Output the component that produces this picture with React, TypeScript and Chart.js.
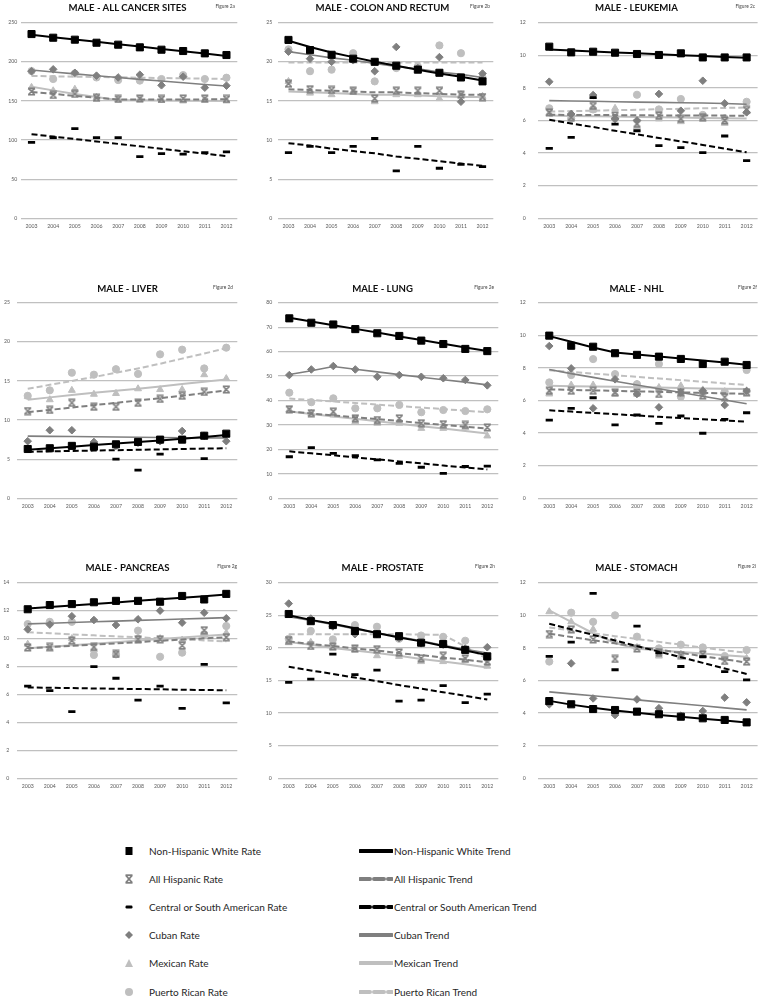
import React, { useEffect, useRef } from "react";
import { Chart, registerables } from "chart.js";

Chart.register(...registerables);

// ---------- categories ----------
const years = ["2003", "2004", "2005", "2006", "2007", "2008", "2009", "2010", "2011", "2012"];

// ---------- Figure 2a: All cancer sites ----------
const allNHW = [235.5, 230.8, 228.3, 224.4, 221.9, 218.5, 215.5, 213.8, 210.8, 208.7];
const allNHWTrend = [234.5, 231.5, 228.5, 225.5, 222.5, 219.5, 216.5, 213.5, 210.5, 207.5];
const allAH = [162, 157.6, 159, 154, 152.5, 153, 152.5, 153, 153, 152.5];
const allAHTrend = [161.5, 159, 156.5, 154, 151.8, 151.8, 151.9, 152, 152, 152.1];
const allCSA = [97, 103, 114.5, 103, 103, 78.8, 82.6, 82, 84, 85];
const allCSATrend = [107.5, 104.4, 101.3, 98.2, 95.1, 92, 88.9, 85.8, 82.7, 79.6];
const allCuban = [188, 190.4, 186, 182.3, 180, 183.5, 170, 181, 167, 169.5];
const allCubanTrend = [189.5, 187, 184.6, 182.2, 179.9, 177.6, 175.4, 173.2, 171, 169];
const allMex = [167.4, 163, 165, 154.6, 152, 152, 151, 150, 151, 150];
const allMexTrend = [168, 163.5, 159, 155, 151, 150.8, 150.6, 150.4, 150.2, 150];
const allPR = [188.2, 178, 185, 180, 176.7, 176, 178, 183, 178, 179.7];
const allPRTrend = [182, 181.5, 181, 180.6, 180.2, 179.7, 179.3, 178.9, 178.5, 178];

// ---------- Figure 2b: Colon and rectum ----------
const colNHW = [22.8, 21.5, 20.9, 20.4, 20.0, 19.5, 19.0, 18.6, 18.0, 17.5];
const colNHWTrend = [22.7, 21.9, 21.2, 20.6, 20.0, 19.5, 19.0, 18.5, 18.1, 17.6];
const colAH = [17.2, 16.5, 16.4, 16.3, 15.3, 16.3, 16.3, 16.3, 15.8, 15.5];
const colAHTrend = [16.5, 16.4, 16.3, 16.2, 16.1, 16.1, 16.0, 15.9, 15.8, 15.8];
const colCSA = [8.4, 9.2, 8.4, 9.2, 10.2, 6.05, 9.2, 6.4, 6.9, 6.6];
const colCSATrend = [9.6, 9.3, 8.9, 8.6, 8.3, 7.9, 7.6, 7.3, 7.0, 6.7];
const colCuban = [21.3, 20.4, 20.0, 20.2, 18.8, 21.9, 19.2, 20.6, 14.9, 18.5];
const colCubanTrend = [21.3, 20.9, 20.5, 20.2, 19.8, 19.4, 19.1, 18.7, 18.4, 18.0];
const colMex = [17.5, 16.0, 15.8, 16.2, 14.9, 15.8, 15.8, 15.3, 15.8, 15.6];
const colMexTrend = [16.2, 16.1, 16.0, 15.9, 15.8, 15.8, 15.7, 15.6, 15.5, 15.5];
const colPR = [21.6, 18.8, 19.0, 21.1, 17.5, 19.2, 19.4, 22.1, 21.1, 18.0];
const colPRTrend = [19.9, 19.9, 19.9, 19.9, 19.9, 19.9, 19.9, 19.9, 19.9, 19.9];

// ---------- Figure 2c: Leukemia ----------
const leuNHW = [10.53, 10.18, 10.22, 10.16, 10.08, 10.02, 10.12, 9.87, 9.87, 9.87];
const leuNHWTrend = [10.35, 10.29, 10.23, 10.17, 10.12, 10.06, 10.0, 9.95, 9.9, 9.85];
const leuAH = [6.5, 6.2, 6.9, 6.3, 5.8, 6.3, 6.1, 6.2, 6.0, 6.65];
const leuAHTrend = [6.35, 6.34, 6.33, 6.33, 6.32, 6.31, 6.31, 6.3, 6.3, 6.29];
const leuCSA = [4.29, 4.97, 7.4, 5.78, 5.37, 4.46, 4.33, 4.03, 5.05, 3.54];
const leuCSATrend = [6.05, 5.82, 5.6, 5.37, 5.15, 4.93, 4.72, 4.5, 4.28, 4.05];
const leuCuban = [8.38, 6.4, 7.56, 6.1, 6.0, 7.63, 6.6, 8.44, 7.05, 6.5];
const leuCubanTrend = [7.22, 7.2, 7.18, 7.15, 7.13, 7.11, 7.09, 7.07, 7.04, 7.0];
const leuMex = [6.44, 6.13, 6.64, 6.75, 5.62, 6.1, 5.93, 6.1, 5.83, 6.54];
const leuMexTrend = [6.3, 6.28, 6.26, 6.24, 6.22, 6.2, 6.18, 6.16, 6.14, 6.12];
const leuPR = [6.75, 6.13, 6.68, 6.13, 7.58, 6.68, 7.32, 6.34, 6.13, 7.15];
const leuPRTrend = [6.55, 6.58, 6.6, 6.63, 6.66, 6.69, 6.72, 6.75, 6.77, 6.8];

// ---------- Figure 2d: Liver ----------
const livNHW = [6.3, 6.4, 6.7, 6.6, 6.9, 7.2, 7.5, 7.5, 8.0, 8.26];
const livNHWTrend = [6.2, 6.4, 6.6, 6.8, 7.0, 7.2, 7.4, 7.6, 7.85, 8.1];
const livAH = [11.15, 11.3, 12.2, 11.7, 11.7, 12.2, 12.7, 13.1, 13.6, 13.9];
const livAHTrend = [11.0, 11.3, 11.6, 11.9, 12.2, 12.5, 12.8, 13.1, 13.45, 13.8];
const livCSA = [6.2, 6.3, 6.5, 6.5, 5.0, 3.6, 5.65, 7.4, 5.07, 8.0];
const livCSATrend = [5.95, 6.0, 6.05, 6.1, 6.15, 6.2, 6.25, 6.3, 6.35, 6.4];
const livCuban = [7.3, 8.7, 8.7, 7.2, 6.7, 7.1, 7.3, 8.6, 8.0, 7.3];
const livCubanTrend = [7.95, 7.92, 7.89, 7.86, 7.83, 7.8, 7.77, 7.74, 7.72, 7.7];
const livMex = [13.0, 12.6, 13.8, 13.3, 13.4, 14.0, 13.9, 13.9, 15.8, 15.3];
const livMexTrend = [12.6, 12.9, 13.2, 13.5, 13.75, 14.0, 14.3, 14.6, 14.9, 15.2];
const livPR = [13.1, 13.8, 16.05, 15.8, 16.5, 15.9, 18.4, 19.0, 16.6, 19.25];
const livPRTrend = [14.0, 14.5, 15.0, 15.5, 16.05, 16.6, 17.2, 17.85, 18.5, 19.2];

// ---------- Figure 2e: Lung ----------
const lunNHW = [73.6, 71.8, 71.1, 69.2, 67.5, 66.4, 64.5, 63.1, 61.1, 60.2];
const lunNHWTrend = [73.8, 72.3, 70.8, 69.3, 67.8, 66.2, 64.7, 63.2, 61.7, 60.2];
const lunAH = [36.4, 34.8, 35.4, 32.7, 32.0, 32.7, 30.7, 30.3, 30.0, 29.0];
const lunAHTrend = [35.5, 34.7, 33.9, 33.1, 32.4, 31.6, 30.8, 30.0, 29.3, 28.5];
const lunCSA = [17.0, 20.7, 18.4, 17.4, 15.7, 14.3, 12.7, 10.2, 13.0, 13.2];
const lunCSATrend = [19.2, 18.4, 17.6, 16.7, 15.9, 15.1, 14.3, 13.4, 12.6, 11.8];
const lunCuban = [50.4, 52.7, 54.1, 52.7, 49.7, 50.4, 49.7, 49.1, 48.4, 46.2];
const lunCubanTrend = [50.6, 52.2, 53.9, 52.8, 51.7, 50.6, 49.5, 48.5, 47.5, 46.4];
const lunMex = [36.1, 34.8, 34.1, 31.3, 30.7, 30.7, 28.6, 28.6, 28.9, 25.5];
const lunMexTrend = [35.5, 34.5, 33.5, 32.5, 31.5, 30.5, 29.5, 28.5, 27.5, 26.5];
const lunPR = [43.2, 39.3, 40.9, 36.8, 36.8, 38.2, 35.2, 36.1, 35.7, 36.4];
const lunPRTrend = [40.8, 40.2, 39.6, 39.0, 38.3, 37.7, 37.1, 36.5, 35.8, 35.2];

// ---------- Figure 2f: NHL ----------
const nhlNHW = [9.98, 9.36, 9.3, 8.9, 8.8, 8.69, 8.55, 8.24, 8.38, 8.18];
const nhlNHWTrend = [9.95, 9.6, 9.25, 8.95, 8.82, 8.7, 8.58, 8.46, 8.33, 8.2];
const nhlAH = [6.6, 6.6, 6.6, 6.5, 6.5, 6.4, 6.5, 6.3, 6.2, 6.5];
const nhlAHTrend = [6.68, 6.65, 6.62, 6.59, 6.56, 6.53, 6.5, 6.47, 6.44, 6.41];
const nhlCSA = [4.8, 5.52, 6.17, 4.5, 5.11, 4.6, 5.05, 3.99, 4.84, 5.25];
const nhlCSATrend = [5.4, 5.32, 5.24, 5.16, 5.08, 5.0, 4.92, 4.85, 4.77, 4.7];
const nhlCuban = [9.34, 7.97, 5.52, 7.3, 6.4, 5.58, 6.5, 6.6, 5.72, 6.58];
const nhlCubanTrend = [7.9, 7.65, 7.42, 7.18, 6.95, 6.72, 6.49, 6.26, 6.03, 5.8];
const nhlMex = [6.4, 6.95, 6.95, 6.4, 7.0, 6.8, 6.9, 6.65, 6.54, 6.6];
const nhlMexTrend = [6.9, 6.88, 6.86, 6.84, 6.82, 6.79, 6.77, 6.74, 6.72, 6.7];
const nhlPR = [7.11, 7.56, 8.54, 7.62, 7.0, 8.24, 6.23, 6.44, 6.54, 7.87];
const nhlPRTrend = [7.85, 7.75, 7.65, 7.55, 7.45, 7.35, 7.25, 7.15, 7.05, 6.95];

// ---------- Figure 2g: Pancreas ----------
const panNHW = [12.1, 12.4, 12.47, 12.6, 12.7, 12.7, 12.64, 13.05, 12.8, 13.2];
const panNHWTrend = [12.15, 12.26, 12.37, 12.48, 12.59, 12.7, 12.81, 12.92, 13.03, 13.15];
const panAH = [9.37, 9.4, 9.85, 9.4, 8.9, 9.95, 9.95, 9.5, 10.6, 10.1];
const panAHTrend = [9.3, 9.39, 9.48, 9.57, 9.66, 9.75, 9.84, 9.93, 10.02, 10.1];
const panCSA = [6.6, 6.27, 4.77, 7.99, 7.16, 5.6, 6.6, 5.0, 8.15, 5.4];
const panCSATrend = [6.5, 6.48, 6.46, 6.43, 6.41, 6.39, 6.37, 6.34, 6.32, 6.3];
const panCuban = [10.66, 11.0, 11.6, 11.33, 10.97, 11.38, 12.0, 11.14, 11.85, 11.45];
const panCubanTrend = [11.05, 11.1, 11.15, 11.2, 11.25, 11.3, 11.35, 11.4, 11.45, 11.5];
const panMex = [9.6, 9.23, 10.0, 9.2, 8.9, 10.1, 10.0, 9.9, 10.3, 10.4];
const panMexTrend = [9.3, 9.41, 9.52, 9.63, 9.74, 9.86, 9.97, 10.08, 10.19, 10.3];
const panPR = [11.04, 11.2, 11.2, 8.83, 8.87, 10.57, 8.7, 8.99, 10.3, 10.9];
const panPRTrend = [10.45, 10.38, 10.3, 10.23, 10.16, 10.09, 10.02, 9.95, 9.87, 9.8];

// ---------- Figure 2h: Prostate ----------
const proNHW = [25.2, 24.1, 23.5, 22.6, 22.1, 21.8, 20.8, 20.6, 19.7, 18.7];
const proNHWTrend = [25.0, 24.3, 23.7, 23.0, 22.3, 21.6, 21.0, 20.3, 19.6, 18.9];
const proAH = [21.2, 20.3, 20.2, 19.9, 19.8, 19.3, 18.4, 18.8, 18.4, 17.9];
const proAHTrend = [21.0, 20.6, 20.3, 19.9, 19.6, 19.2, 18.9, 18.5, 18.2, 17.8];
const proCSA = [14.7, 15.2, 19.05, 15.9, 16.6, 11.85, 12.0, 14.2, 11.6, 12.9];
const proCSATrend = [17.1, 16.55, 16.0, 15.45, 14.9, 14.3, 13.75, 13.2, 12.65, 12.1];
const proCuban = [26.8, 24.5, 23.3, 22.1, 22.1, 21.5, 20.7, 20.5, 19.9, 20.1];
const proCubanTrend = [24.8, 24.2, 23.6, 22.9, 22.3, 21.7, 21.1, 20.4, 19.8, 19.2];
const proMex = [20.8, 20.85, 20.1, 19.7, 18.8, 18.7, 17.9, 17.9, 18.1, 17.2];
const proMexTrend = [20.9, 20.5, 20.0, 19.6, 19.2, 18.8, 18.3, 17.9, 17.5, 17.0];
const proPR = [21.4, 22.6, 21.3, 23.5, 23.25, 21.4, 21.9, 21.7, 21.1, 18.4];
const proPRTrend = [22.1, 22.1, 22.1, 22.1, 22.1, 22.1, 22.05, 22.0, 20.2, 18.3];

// ---------- Figure 2i: Stomach ----------
const stoNHW = [4.74, 4.54, 4.25, 4.19, 4.09, 3.93, 3.78, 3.68, 3.58, 3.43];
const stoNHWTrend = [4.75, 4.52, 4.33, 4.16, 4.02, 3.89, 3.77, 3.65, 3.54, 3.43];
const stoAH = [8.85, 9.14, 8.52, 7.32, 7.97, 7.7, 7.56, 7.6, 7.2, 7.16];
const stoAHTrend = [8.87, 8.67, 8.47, 8.28, 8.08, 7.89, 7.69, 7.49, 7.3, 7.1];
const stoCSA = [7.48, 8.35, 11.35, 6.66, 9.34, 7.7, 6.86, 7.46, 6.55, 6.04];
const stoCSATrend = [9.48, 9.14, 8.8, 8.45, 8.11, 7.77, 7.43, 7.08, 6.74, 6.4];
const stoCuban = [4.54, 7.05, 4.9, 3.88, 4.84, 4.3, 3.84, 4.13, 4.95, 4.66];
const stoCubanTrend = [5.3, 5.18, 5.06, 4.94, 4.81, 4.69, 4.57, 4.45, 4.32, 4.2];
const stoMex = [10.22, 9.6, 9.14, 8.38, 8.03, 7.5, 7.62, 7.7, 7.36, 7.36];
const stoMexTrend = [10.3, 9.6, 8.9, 8.3, 7.95, 7.85, 7.75, 7.65, 7.55, 7.45];
const stoPR = [7.16, 10.16, 9.6, 10.0, 8.69, 7.97, 8.2, 8.03, 7.5, 7.87];
const stoPRTrend = [9.25, 9.07, 8.9, 8.72, 8.55, 8.37, 8.2, 8.02, 7.85, 7.7];

// ---------- legend labels ----------
const rateLabels = [
  "Non-Hispanic White Rate",
  "All Hispanic Rate",
  "Central or South American Rate",
  "Cuban Rate",
  "Mexican Rate",
  "Puerto Rican Rate",
];
const trendLabels = [
  "Non-Hispanic White Trend",
  "All Hispanic Trend",
  "Central or South American Trend",
  "Cuban Trend",
  "Mexican Trend",
  "Puerto Rican Trend",
];

// ---------- styles ----------
const C_BLACK = "#000000";
const C_DARK = "#7f7f7f";
const C_LIGHT = "#bfbfbf";
const GRID = "#c0c0c0";
const TICK = "#595959";
const FONT = "Lato, 'Noto Sans', sans-serif";

type Series = {
  nhw: number[]; nhwT: number[];
  ah: number[]; ahT: number[];
  csa: number[]; csaT: number[];
  cub: number[]; cubT: number[];
  mex: number[]; mexT: number[];
  pr: number[]; prT: number[];
};

type PanelSpec = {
  title: string; fig: string;
  left: number; top: number;
  plotL: number; plotR: number; tickPad: number;
  max: number; step: number;
  titleY: number; figRight: number; figY: number;
  s: Series;
};

const PW = 255;
const PH = 240;
const PLOT_TOP = 22.7;
const PLOT_BOTTOM = 218.3;
const XH = 14;

const panels: PanelSpec[] = [
  { title: "MALE - ALL CANCER SITES", fig: "Figure 2a", left: 0, top: 0, plotL: 20.7, plotR: 237.3, tickPad: 3.4, max: 250, step: 50, titleY: 7.5, figRight: 235, figY: 5.5,
    s: { nhw: allNHW, nhwT: allNHWTrend, ah: allAH, ahT: allAHTrend, csa: allCSA, csaT: allCSATrend, cub: allCuban, cubT: allCubanTrend, mex: allMex, mexT: allMexTrend, pr: allPR, prT: allPRTrend } },
  { title: "MALE - COLON AND RECTUM", fig: "Figure 2b", left: 255, top: 0, plotL: 22.7, plotR: 238.3, tickPad: 5.4, max: 25, step: 5, titleY: 7.5, figRight: 235, figY: 5.5,
    s: { nhw: colNHW, nhwT: colNHWTrend, ah: colAH, ahT: colAHTrend, csa: colCSA, csaT: colCSATrend, cub: colCuban, cubT: colCubanTrend, mex: colMex, mexT: colMexTrend, pr: colPR, prT: colPRTrend } },
  { title: "MALE - LEUKEMIA", fig: "Figure 2c", left: 509, top: 0, plotL: 29.3, plotR: 249.3, tickPad: 12.6, max: 12, step: 2, titleY: 8, figRight: 246, figY: 6,
    s: { nhw: leuNHW, nhwT: leuNHWTrend, ah: leuAH, ahT: leuAHTrend, csa: leuCSA, csaT: leuCSATrend, cub: leuCuban, cubT: leuCubanTrend, mex: leuMex, mexT: leuMexTrend, pr: leuPR, prT: leuPRTrend } },
  { title: "MALE - LIVER", fig: "Figure 2d", left: 0, top: 280, plotL: 16.7, plotR: 237.3, tickPad: 6.7, max: 25, step: 5, titleY: 9.3, figRight: 233, figY: 6.7,
    s: { nhw: livNHW, nhwT: livNHWTrend, ah: livAH, ahT: livAHTrend, csa: livCSA, csaT: livCSATrend, cub: livCuban, cubT: livCubanTrend, mex: livMex, mexT: livMexTrend, pr: livPR, prT: livPRTrend } },
  { title: "MALE - LUNG", fig: "Figure 2e", left: 255, top: 280, plotL: 23.3, plotR: 243.3, tickPad: 6, max: 80, step: 10, titleY: 9.3, figRight: 239, figY: 6.7,
    s: { nhw: lunNHW, nhwT: lunNHWTrend, ah: lunAH, ahT: lunAHTrend, csa: lunCSA, csaT: lunCSATrend, cub: lunCuban, cubT: lunCubanTrend, mex: lunMex, mexT: lunMexTrend, pr: lunPR, prT: lunPRTrend } },
  { title: "MALE - NHL", fig: "Figure 2f", left: 509, top: 280, plotL: 29.3, plotR: 249.3, tickPad: 12.6, max: 12, step: 2, titleY: 9.3, figRight: 248, figY: 6.7,
    s: { nhw: nhlNHW, nhwT: nhlNHWTrend, ah: nhlAH, ahT: nhlAHTrend, csa: nhlCSA, csaT: nhlCSATrend, cub: nhlCuban, cubT: nhlCubanTrend, mex: nhlMex, mexT: nhlMexTrend, pr: nhlPR, prT: nhlPRTrend } },
  { title: "MALE - PANCREAS", fig: "Figure 2g", left: 0, top: 560, plotL: 16.7, plotR: 237.3, tickPad: 7.4, max: 14, step: 2, titleY: 7.5, figRight: 237, figY: 6,
    s: { nhw: panNHW, nhwT: panNHWTrend, ah: panAH, ahT: panAHTrend, csa: panCSA, csaT: panCSATrend, cub: panCuban, cubT: panCubanTrend, mex: panMex, mexT: panMexTrend, pr: panPR, prT: panPRTrend } },
  { title: "MALE - PROSTATE", fig: "Figure 2h", left: 255, top: 560, plotL: 22.7, plotR: 243.3, tickPad: 6, max: 30, step: 5, titleY: 7.5, figRight: 240, figY: 6,
    s: { nhw: proNHW, nhwT: proNHWTrend, ah: proAH, ahT: proAHTrend, csa: proCSA, csaT: proCSATrend, cub: proCuban, cubT: proCubanTrend, mex: proMex, mexT: proMexTrend, pr: proPR, prT: proPRTrend } },
  { title: "MALE - STOMACH", fig: "Figure 2i", left: 509, top: 560, plotL: 29.3, plotR: 249.3, tickPad: 12.6, max: 12, step: 2, titleY: 7.5, figRight: 247, figY: 6,
    s: { nhw: stoNHW, nhwT: stoNHWTrend, ah: stoAH, ahT: stoAHTrend, csa: stoCSA, csaT: stoCSATrend, cub: stoCuban, cubT: stoCubanTrend, mex: stoMex, mexT: stoMexTrend, pr: stoPR, prT: stoPRTrend } },
];

function makeXMarker(): HTMLCanvasElement {
  const c = document.createElement("canvas");
  c.width = 9;
  c.height = 9;
  const ctx = c.getContext("2d")!;
  ctx.strokeStyle = C_DARK;
  ctx.lineWidth = 1.6;
  ctx.beginPath();
  ctx.moveTo(1.5, 1.5); ctx.lineTo(7.5, 7.5);
  ctx.moveTo(7.5, 1.5); ctx.lineTo(1.5, 7.5);
  ctx.moveTo(1, 1.2); ctx.lineTo(8, 1.2);
  ctx.moveTo(1, 7.8); ctx.lineTo(8, 7.8);
  ctx.stroke();
  return c;
}

function rate(label: string, data: number[], color: string, style: any, radius: number, borderWidth = 1) {
  return {
    label, data, showLine: false,
    pointStyle: style, pointRadius: radius, pointHoverRadius: radius,
    pointBackgroundColor: color, pointBorderColor: color, pointBorderWidth: borderWidth,
    borderColor: color, backgroundColor: color,
  };
}

function trend(label: string, data: number[], color: string, dash: number[], width: number) {
  return {
    label, data, pointRadius: 0, pointHoverRadius: 0,
    borderColor: color, backgroundColor: color, borderWidth: width,
    borderDash: dash, tension: 0, fill: false,
  };
}

function Panel({ spec }: { spec: PanelSpec }) {
  const ref = useRef<HTMLCanvasElement>(null);
  useEffect(() => {
    const xm = makeXMarker();
    const s = spec.s;
    const datasets: any[] = [
      rate(rateLabels[0], s.nhw, C_BLACK, "rect", 5),
      trend(trendLabels[0], s.nhwT, C_BLACK, [], 2),
      rate(rateLabels[2], s.csa, C_BLACK, "line", 3.6, 2.8),
      trend(trendLabels[2], s.csaT, C_BLACK, [6, 3], 2),
      rate(rateLabels[3], s.cub, C_DARK, "rectRot", 3.8),
      trend(trendLabels[3], s.cubT, C_DARK, [], 1.6),
      rate(rateLabels[1], s.ah, C_DARK, xm, 4.5),
      trend(trendLabels[1], s.ahT, C_DARK, [6, 3], 2),
      rate(rateLabels[4], s.mex, C_LIGHT, "triangle", 4),
      trend(trendLabels[4], s.mexT, C_LIGHT, [], 2),
      rate(rateLabels[5], s.pr, C_LIGHT, "circle", 3.6),
      trend(trendLabels[5], s.prT, C_LIGHT, [6, 3], 2),
    ];
    const yWidth = spec.plotL;
    const chart = new Chart(ref.current!, {
      type: "line",
      data: { labels: years, datasets },
      options: {
        responsive: false,
        animation: false,
        events: [],
        layout: {
          padding: {
            left: 0,
            right: PW - spec.plotR,
            top: PLOT_TOP,
            bottom: PH - PLOT_BOTTOM - XH,
          },
        },
        plugins: {
          legend: { display: false },
          tooltip: { enabled: false },
          title: { display: false },
        },
        scales: {
          x: {
            type: "category",
            offset: true,
            grid: { display: false, drawTicks: false },
            border: { display: false },
            ticks: { font: { family: FONT, size: 5.2 }, color: TICK, padding: 5, maxRotation: 0, autoSkip: false },
            afterFit: (sc: any) => { sc.height = XH; },
          },
          y: {
            min: 0,
            max: spec.max,
            grid: { color: GRID, lineWidth: 1.3, drawTicks: false },
            border: { display: false },
            ticks: { stepSize: spec.step, font: { family: FONT, size: 5.2 }, color: TICK, padding: spec.tickPad },
            afterFit: (sc: any) => { sc.width = yWidth; },
          },
        },
      },
    } as any);
    return () => chart.destroy();
  }, [spec]);

  return (
    <div style={{ position: "absolute", left: spec.left, top: spec.top, width: PW, height: PH }}>
      <canvas ref={ref} width={PW} height={PH} style={{ position: "absolute", left: 0, top: 0, width: PW, height: PH }} />
      <div style={{ position: "absolute", left: 0, width: PW, top: spec.titleY - 5, height: 10, lineHeight: "10px", textAlign: "center", fontFamily: FONT, fontWeight: 700, fontSize: 9.6, color: "#111", whiteSpace: "nowrap" }}>
        {spec.title}
      </div>
      <div style={{ position: "absolute", right: PW - spec.figRight, top: spec.figY - 3, height: 6, lineHeight: "6px", fontFamily: FONT, fontSize: 4.8, color: "#444", whiteSpace: "nowrap" }}>
        {spec.fig}
      </div>
    </div>
  );
}

function RateIcon({ i }: { i: number }) {
  const size = 12;
  let shape: React.ReactNode = null;
  if (i === 0) shape = <rect x={2.5} y={2} width={7} height={8} fill={C_BLACK} />;
  if (i === 1) shape = (
    <g stroke={C_DARK} strokeWidth={1.8} fill="none">
      <line x1={3} y1={2.5} x2={9} y2={9.5} />
      <line x1={9} y1={2.5} x2={3} y2={9.5} />
      <line x1={2.5} y1={2.2} x2={9.5} y2={2.2} />
      <line x1={2.5} y1={9.8} x2={9.5} y2={9.8} />
    </g>
  );
  if (i === 2) shape = <rect x={2.5} y={4.6} width={7} height={2.8} rx={1.2} fill={C_BLACK} />;
  if (i === 3) shape = <polygon points="6,2 10,6 6,10 2,6" fill={C_DARK} />;
  if (i === 4) shape = <polygon points="6,2 10,10 2,10" fill={C_LIGHT} />;
  if (i === 5) shape = <circle cx={6} cy={6} r={4} fill={C_LIGHT} />;
  return (
    <svg width={size} height={size} style={{ position: "absolute", left: -6, top: -6 }}>
      {shape}
    </svg>
  );
}

const trendStyles = [
  { color: C_BLACK, dash: "" },
  { color: C_DARK, dash: "10 4" },
  { color: C_BLACK, dash: "10 4" },
  { color: C_DARK, dash: "" },
  { color: C_LIGHT, dash: "" },
  { color: C_LIGHT, dash: "10 4" },
];

function Legend() {
  const rowsY = [850.7, 879, 907.3, 935.3, 963.3, 991.7];
  const textStyle: React.CSSProperties = { position: "absolute", fontFamily: FONT, fontSize: 10, lineHeight: "12px", height: 12, color: "#262626", whiteSpace: "nowrap" };
  return (
    <>
      {rateLabels.map((lab, i) => (
        <React.Fragment key={"r" + i}>
          <div style={{ position: "absolute", left: 129, top: rowsY[i], width: 0, height: 0 }}>
            <RateIcon i={i} />
          </div>
          <div style={{ ...textStyle, left: 149, top: rowsY[i] - 6 }}>{lab}</div>
        </React.Fragment>
      ))}
      {trendLabels.map((lab, i) => (
        <React.Fragment key={"t" + i}>
          <svg width={34} height={8} style={{ position: "absolute", left: 359, top: rowsY[i] - 4 }}>
            <line x1={1} y1={4} x2={33} y2={4} stroke={trendStyles[i].color} strokeWidth={4} strokeDasharray={trendStyles[i].dash || undefined} strokeLinecap="round" />
          </svg>
          <div style={{ ...textStyle, left: 394, top: rowsY[i] - 6 }}>{lab}</div>
        </React.Fragment>
      ))}
    </>
  );
}

export default function App() {
  return (
    <div style={{ position: "absolute", left: 0, top: 0, width: 764, height: 1000, background: "#ffffff", overflow: "hidden" }}>
      {panels.map((p) => (
        <Panel key={p.fig} spec={p} />
      ))}
      <Legend />
    </div>
  );
}
